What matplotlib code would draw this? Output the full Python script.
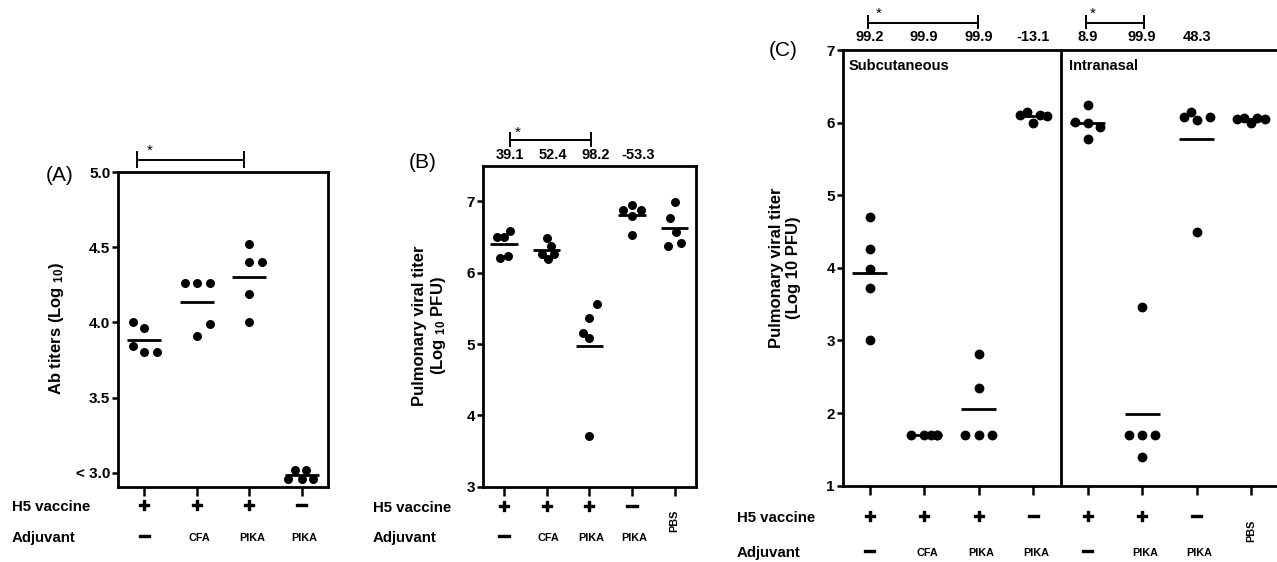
import numpy as np
import matplotlib
matplotlib.use('Agg')
import matplotlib.pyplot as plt
from matplotlib.transforms import blended_transform_factory
import matplotlib.patheffects as pe

plt.rcParams['font.family'] = ['Liberation Sans', 'DejaVu Sans']
plt.rcParams['mathtext.fontset'] = 'custom'
plt.rcParams['mathtext.rm'] = 'Liberation Sans:bold'
plt.rcParams['mathtext.bf'] = 'Liberation Sans:bold'
plt.rcParams['mathtext.it'] = 'Liberation Sans:bold'

# ---------------- data ----------------
# Panel A : antibody titers
a_h5 = ['+', '+', '+', '−']
a_adj = ['−', 'CFA', 'PIKA', 'PIKA']
a_values = [
    [4.00, 3.96, 3.84, 3.80, 3.80],
    [4.26, 4.26, 4.26, 3.91, 3.99],
    [4.52, 4.40, 4.40, 4.19, 4.00],
    [3.02, 3.02, 2.96, 2.96, 2.96],
]
a_dx = [
    [-0.22, 0.0, -0.22, 0.0, 0.24],
    [-0.23, 0.0, 0.25, 0.0, 0.25],
    [0.0, 0.0, 0.25, 0.0, 0.0],
    [-0.13, 0.09, -0.26, 0.0, 0.22],
]
a_yticks = [3.0, 3.5, 4.0, 4.5, 5.0]
a_yticklabels = ['< 3.0', '3.5', '4.0', '4.5', '5.0']

# Panel B : pulmonary viral titer
b_h5 = ['+', '+', '+', '−', '']
b_adj = ['−', 'CFA', 'PIKA', 'PIKA', '']
b_rot = ['', '', '', '', 'PBS']
b_pct = ['39.1', '52.4', '98.2', '-53.3']
b_values = [
    [6.50, 6.50, 6.58, 6.20, 6.24],
    [6.48, 6.37, 6.26, 6.19, 6.26],
    [5.56, 5.37, 5.16, 5.09, 3.71],
    [6.95, 6.88, 6.88, 6.80, 6.53],
    [6.99, 6.76, 6.57, 6.37, 6.41],
]
b_dx = [
    [-0.16, 0.0, 0.15, -0.10, 0.10],
    [0.0, 0.10, -0.10, 0.03, 0.17],
    [0.18, 0.0, -0.16, 0.0, 0.0],
    [0.0, -0.20, 0.20, 0.0, 0.0],
    [0.0, -0.12, 0.03, -0.16, 0.15],
]
b_yticks = [3, 4, 5, 6, 7]

# Panel C : subcutaneous vs intranasal
c_h5 = ['+', '+', '+', '−', '+', '+', '−', '']
c_adj = ['−', 'CFA', 'PIKA', 'PIKA', '−', 'PIKA', 'PIKA', '']
c_rot = ['', '', '', '', '', '', '', 'PBS']
c_pct = ['99.2', '99.9', '99.9', '-13.1', '8.9', '99.9', '48.3']
c_values = [
    [4.70, 4.265, 3.99, 3.72, 3.00],
    [1.70, 1.70, 1.70, 1.70, 1.70],
    [2.82, 2.34, 1.70, 1.70, 1.70],
    [6.10, 6.15, 5.99, 6.10, 6.09],
    [6.24, 6.01, 5.99, 5.94, 5.78],
    [3.46, 1.70, 1.70, 1.70, 1.40],
    [6.08, 6.15, 6.04, 6.08, 4.49],
    [6.045, 6.07, 5.99, 6.07, 6.045],
]
c_dx = [
    [0.0, 0.0, 0.0, 0.0, 0.0],
    [-0.25, 0.0, 0.12, 0.24, 0.24],
    [0.0, 0.0, -0.25, 0.0, 0.24],
    [-0.25, -0.12, 0.0, 0.13, 0.26],
    [0.0, -0.24, 0.0, 0.23, 0.0],
    [0.0, -0.25, 0.0, 0.24, 0.0],
    [-0.24, -0.11, 0.0, 0.24, 0.0],
    [-0.26, -0.13, 0.0, 0.11, 0.25],
]
c_yticks = [1, 2, 3, 4, 5, 6, 7]

# ---------------- figure ----------------
W, H = 1277, 562
fig = plt.figure(figsize=(W / 100, H / 100), dpi=100)


def rect(left, top, right, bottom):
    return [left / W, 1 - bottom / H, (right - left) / W, (bottom - top) / H]


def fy(ypx):
    return 1 - ypx / H


def fx(xpx):
    return xpx / W


def style_axes(ax, spines=('left', 'right', 'top', 'bottom')):
    for name, sp in ax.spines.items():
        sp.set_linewidth(2.0)
        sp.set_visible(name in spines)
    ax.tick_params(axis='y', direction='out', length=4.5, width=1.8, pad=1,
                   labelsize=11)
    ax.tick_params(axis='x', direction='out', length=6.5, width=1.8,
                   labelbottom=False)
    for lab in ax.get_yticklabels():
        lab.set_fontweight('bold')


def draw_groups(ax, values, dx, s):
    for i, (vals, offs) in enumerate(zip(values, dx)):
        xs = i + np.asarray(offs)
        ax.scatter(xs, vals, s=s, color='black', linewidths=0, zorder=3,
                   clip_on=False)
        ax.hlines(np.mean(vals), i - 0.32, i + 0.32, color='black', lw=2.0,
                  zorder=2)


sym_fx = [pe.withStroke(linewidth=1.0, foreground='black')]


def row_labels(ax, h5, adj, rot, y_h5, y_adj, y_rot, lab_x):
    tr = blended_transform_factory(ax.transData, fig.transFigure)
    for i, t in enumerate(h5):
        if t:
            fs = 14 if t == '+' else 16
            ax.text(i, fy(y_h5), t, transform=tr, ha='center', va='center',
                    fontsize=fs, fontweight='bold', path_effects=sym_fx)
    for i, t in enumerate(adj):
        if t == '−':
            ax.text(i, fy(y_adj), t, transform=tr, ha='center', va='center',
                    fontsize=16, fontweight='bold', path_effects=sym_fx)
        elif t:
            ax.text(i + 0.05, fy(y_adj), t, transform=tr, ha='center',
                    va='center', fontsize=7.8, fontweight='bold')
    for i, t in enumerate(rot):
        if t:
            ax.text(i, fy(y_rot), t, transform=tr, ha='center', va='center',
                    fontsize=7.8, fontweight='bold', rotation=90)
    fig.text(fx(lab_x), fy(y_h5), 'H5 vaccine', ha='left', va='center',
             fontsize=10.8, fontweight='bold')
    fig.text(fx(lab_x), fy(y_adj), 'Adjuvant', ha='left', va='center',
             fontsize=10.8, fontweight='bold')


def bracket(ax, x0, x1, y, ytop, ybot, star_x, star_y):
    tr = blended_transform_factory(ax.transData, ax.transAxes)
    ax.plot([x0, x1], [y, y], color='black', lw=1.4, transform=tr,
            clip_on=False)
    for xx in (x0, x1):
        ax.plot([xx, xx], [ybot, ytop], color='black', lw=1.4, transform=tr,
                clip_on=False)
    ax.text(star_x, star_y, '*', transform=tr, ha='center', va='center',
            fontsize=11)


# ---------- Panel A ----------
axA = fig.add_axes(rect(118, 172, 328, 487))
axA.set_xlim(-0.5, len(a_values) - 0.5)
axA.set_ylim(2.905, 5.0)
axA.set_xticks(range(len(a_values)))
axA.set_yticks(a_yticks)
axA.set_yticklabels(a_yticklabels)
style_axes(axA)
draw_groups(axA, a_values, a_dx, s=42)
row_labels(axA, a_h5, a_adj, ['', '', '', ''], 507, 538, 522, 12)
bracket(axA, -0.14, 1.9, 1.038, 1.064, 1.016, 0.1, 1.066)
fig.text(fx(60), fy(175), '(A)', ha='center', va='center', fontsize=15)
fig.text(fx(56), fy(329), r'Ab titers (Log $_{10}$)', rotation=90,
         ha='center', va='center', fontsize=12, fontweight='bold')

# ---------- Panel B ----------
axB = fig.add_axes(rect(482.7, 165.7, 696, 486.7))
axB.set_xlim(-0.5, len(b_values) - 0.5)
axB.set_ylim(3, 7.5)
axB.set_xticks(range(len(b_values)))
axB.set_yticks(b_yticks)
style_axes(axB)
draw_groups(axB, b_values, b_dx, s=42)
row_labels(axB, b_h5, b_adj, b_rot, 508, 538, 521, 373)
trB = blended_transform_factory(axB.transData, axB.transAxes)
for i, t in enumerate(b_pct):
    axB.text(i + 0.14, 1.033, t, transform=trB, ha='center', va='center',
             fontsize=10.5, fontweight='bold')
bracket(axB, 0.14, 2.03, 1.080, 1.101, 1.061, 0.33, 1.104)
fig.text(fx(423), fy(162), '(B)', ha='center', va='center', fontsize=15)
fig.text(fx(430), fy(326), 'Pulmonary viral titer\n' + r'(Log $_{10}$ PFU)',
         rotation=90, ha='center', va='center', fontsize=12,
         fontweight='bold', multialignment='center', linespacing=1.2)

# ---------- Panel C ----------
c_spacing = 54.5
c_left = 842.5
c_xmax = 8.0
axC = fig.add_axes(rect(c_left, 50, c_left + (c_xmax + 0.5) * c_spacing, 485.7))
axC.set_xlim(-0.5, c_xmax)
axC.set_ylim(1, 7)
axC.set_xticks(range(len(c_values)))
axC.set_yticks(c_yticks)
style_axes(axC, spines=('left', 'top', 'bottom'))
axC.axvline(3.5, color='black', lw=2.0)
draw_groups(axC, c_values, c_dx, s=50)
row_labels(axC, c_h5, c_adj, c_rot, 518, 553, 531, 737)
trC = blended_transform_factory(axC.transData, axC.transAxes)
for i, t in enumerate(c_pct):
    axC.text(i, 1.029, t, transform=trC, ha='center', va='center',
             fontsize=10.5, fontweight='bold')
bracket(axC, -0.04, 1.99, 1.063, 1.078, 1.050, 0.16, 1.082)
bracket(axC, 3.96, 5.04, 1.063, 1.078, 1.050, 4.10, 1.082)
axC.text(-0.38, 0.963, 'Subcutaneous', transform=trC, ha='left',
         va='center', fontsize=10.5, fontweight='bold')
axC.text(3.66, 0.963, 'Intranasal', transform=trC, ha='left',
         va='center', fontsize=10.5, fontweight='bold')
fig.text(fx(783), fy(51), '(C)', ha='center', va='center', fontsize=15)
fig.text(fx(785), fy(268), 'Pulmonary viral titer\n(Log 10 PFU)',
         rotation=90, ha='center', va='center', fontsize=12,
         fontweight='bold', multialignment='center', linespacing=1.2)

fig.savefig('out.png', dpi=100)
